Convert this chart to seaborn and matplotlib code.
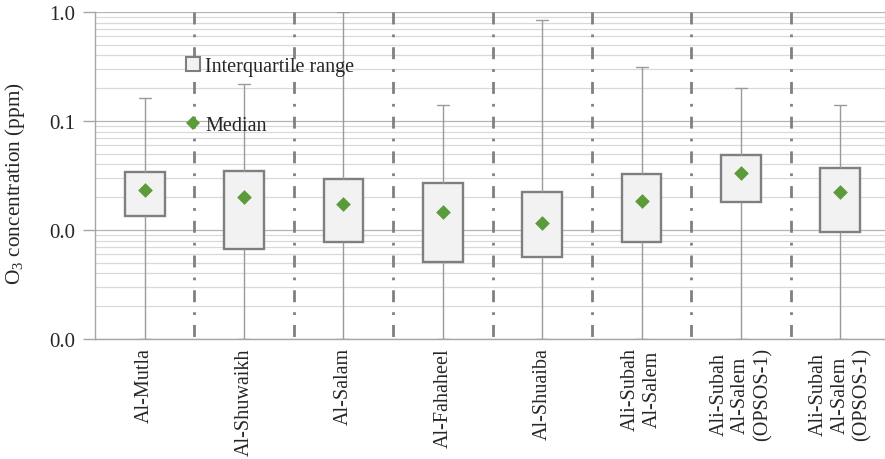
import numpy as np
import pandas as pd
import seaborn as sns
import matplotlib.pyplot as plt
from matplotlib.lines import Line2D
from matplotlib.ticker import FixedLocator, FormatStrFormatter, LogLocator

# --- Data (ppm) ---
site_labels = ["Al-Mutla", "Al-Shuwaikh", "Al-Salam", "Al-Fahaheel", "Al-Shuaiba",
               "Ali-Subah\nAl-Salem", "Ali-Subah\nAl-Salem\n(OPSOS-1)",
               "Ali-Subah\nAl-Salem\n(OPSOS-1)"]
o3_min = [0.001, 0.001, 0.001, 0.001, 0.001, 0.001, 0.001, 0.001]
o3_q1 = [0.0135, 0.0067, 0.0077, 0.0051, 0.0057, 0.0077, 0.0180, 0.0095]
o3_median = [0.0233, 0.0202, 0.0174, 0.0145, 0.0116, 0.0184, 0.0332, 0.0222]
o3_q3 = [0.0342, 0.0349, 0.0292, 0.0272, 0.0225, 0.0323, 0.0491, 0.0367]
o3_max = [0.163, 0.218, 1.0, 0.140, 0.843, 0.314, 0.199, 0.140]

# five summary values per site -> seaborn quartiles land exactly on them
rows = []
for i in range(len(site_labels)):
    for v in (o3_min[i], o3_q1[i], o3_median[i], o3_q3[i], o3_max[i]):
        rows.append({"site": i, "o3": v})
df = pd.DataFrame(rows)
med_df = pd.DataFrame({"site": range(len(site_labels)), "o3": o3_median})

# --- Style ---
sns.set_theme(style="white")
plt.rcParams["font.family"] = ["Liberation Serif", "DejaVu Serif"]
plt.rcParams["mathtext.fontset"] = "custom"
plt.rcParams["mathtext.rm"] = "Liberation Serif"

box_edge = "#7f7f7f"
box_fill = "#f2f2f2"
whisk = "#9a9a9a"
green = "#5b9b3a"
fs = 14.5

fig = plt.figure(figsize=(8.85, 4.6), dpi=100)
ax = fig.add_axes([95 / 885, 1 - 340 / 460, 795 / 885, 327 / 460])

sns.boxplot(data=df, x="site", y="o3", ax=ax, whis=(0, 100), width=0.4,
            color=box_fill, linecolor=box_edge, linewidth=1.7, log_scale=(False, True),
            showfliers=False, medianprops={"visible": False},
            whiskerprops={"color": whisk, "linewidth": 1.0},
            capprops={"color": whisk, "linewidth": 1.0}, capwidths=0.12)
sns.stripplot(data=med_df, x="site", y="o3", ax=ax, jitter=False, marker="D",
              size=7.5, color=green, linewidth=0, zorder=5)

# --- Axes ---
ax.set_xlim(-0.5, len(site_labels) - 0.5)
ax.set_ylim(0.001, 1.0)
ax.yaxis.set_major_locator(FixedLocator([0.001, 0.01, 0.1, 1.0]))
ax.yaxis.set_major_formatter(FormatStrFormatter("%.1f"))
ax.yaxis.set_minor_locator(LogLocator(base=10, subs=np.arange(2, 10) * 1.0))
ax.grid(True, axis="y", which="major", color="#b4b4b4", linewidth=0.9)
ax.grid(True, axis="y", which="minor", color="#d9d9d9", linewidth=0.9)
ax.set_axisbelow(True)

ax.set_xticks(range(len(site_labels)))
ax.set_xticklabels(site_labels, rotation=90, ha="center", va="top",
                   multialignment="center", fontsize=fs)
ax.set_xticks([-0.5], minor=True)
ax.tick_params(axis="x", which="major", length=0, pad=6)
ax.tick_params(axis="x", which="minor", length=12, color="#a6a6a6", width=1, direction="out")
ax.tick_params(axis="y", which="major", length=9, color="#a6a6a6", width=1,
               direction="out", pad=5, labelsize=15, left=True)
ax.tick_params(axis="y", which="minor", length=0)

for side in ("top", "right"):
    ax.spines[side].set_visible(False)
for side in ("left", "bottom"):
    ax.spines[side].set_color("#a6a6a6")
    ax.spines[side].set_linewidth(1)

ax.set_xlabel("")
ax.set_ylabel("O$_\\mathrm{3}$ concentration (ppm)", fontsize=15.3)
ax.yaxis.set_label_coords((27 - 95) / 795, (340 - 184) / 327)

# dash-dot separators between sites
for i in range(len(site_labels) - 1):
    ax.plot([i + 0.5, i + 0.5], [1.0, 0.001], color="#808080", linewidth=2,
            linestyle=(0, (4.3, 3.6, 1.0, 3.6)), zorder=3)

# legend
handles = [
    Line2D([], [], marker="s", markersize=9.5, markerfacecolor=box_fill,
           markeredgecolor=box_edge, markeredgewidth=1.5, linestyle="none"),
    Line2D([], [], marker="D", markersize=7, markerfacecolor=green,
           markeredgewidth=0, linestyle="none"),
]
ax.legend(handles, ["Interquartile range", "Median"], loc="upper left",
          bbox_to_anchor=((183 - 95) / 795, (340 - 58) / 327), frameon=False,
          fontsize=fs, handlelength=1.0, handletextpad=0.1, labelspacing=2.0,
          borderpad=0, borderaxespad=0)

fig.savefig("out.png", dpi=100)
